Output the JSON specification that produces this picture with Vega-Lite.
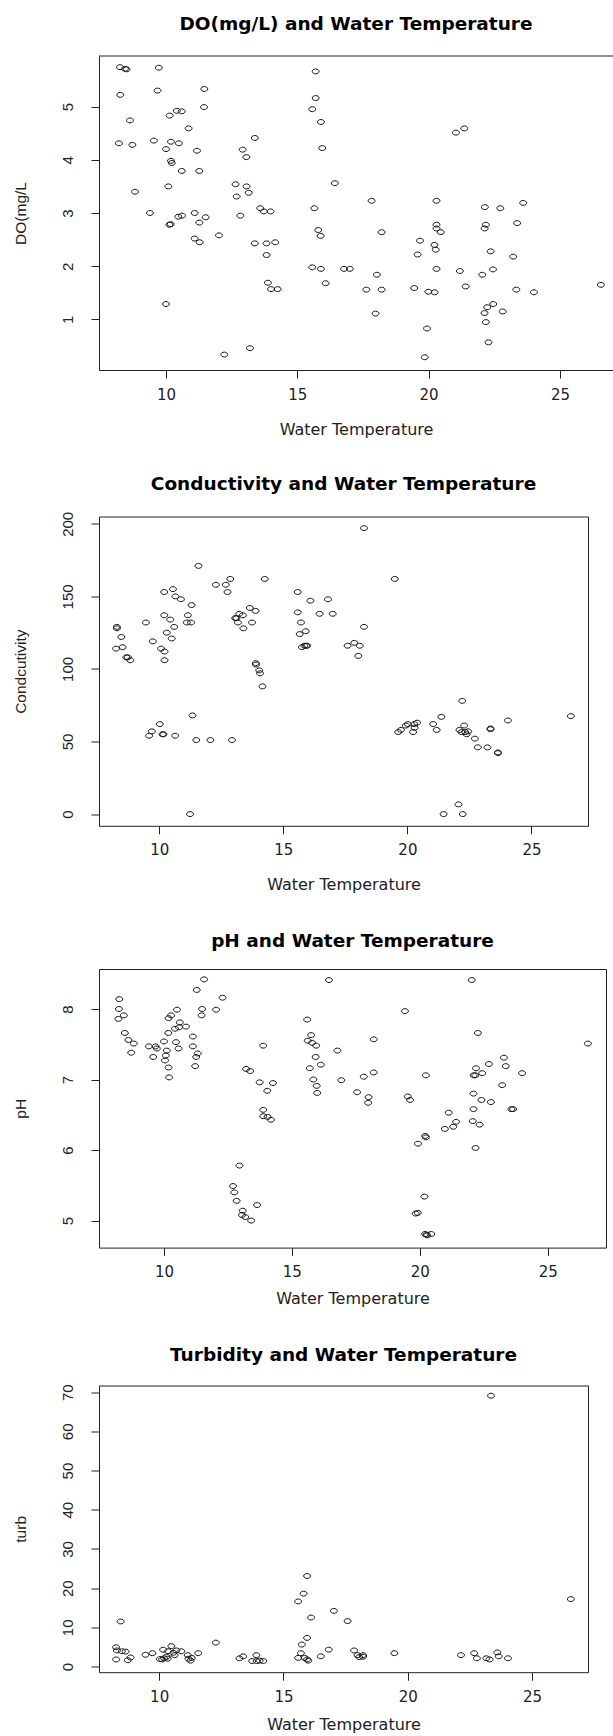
{
  "$schema": "https://vega.github.io/schema/vega-lite/v6.json",
  "padding": {"left": 12, "top": 15, "right": 0, "bottom": 0},
  "spacing": 37.5,
  "background": "white",
  "config": {
    "font": "Liberation Sans",
    "view": {"stroke": "#222", "strokeWidth": 1},
    "axis": {"grid": false, "domain": false, "tickColor": "#222", "tickSize": 8, "tickWidth": 1, "labelColor": "#222", "titleColor": "#222", "titleFontWeight": "normal", "labelFlush": false, "labelOverlap": false, "labelBound": false},
    "axisX": {"labelFont": "DejaVu Sans", "labelFontSize": 15, "labelPadding": 9, "titleFont": "DejaVu Sans", "titleFontSize": 16, "titleBaseline": "middle"},
    "axisY": {"labelFont": "Liberation Sans", "labelFontSize": 15, "labelAngle": 270, "labelAlign": "center", "labelBaseline": "bottom", "labelPadding": 16, "titleFont": "Liberation Sans", "titleFontSize": 15.5, "titleBaseline": "middle", "titleX": -79},
    "title": {"font": "DejaVu Sans", "fontSize": 18.5, "fontWeight": "bold", "color": "#000", "anchor": "middle", "frame": "group", "baseline": "middle"},
    "point": {"shape": "M -1.4 0 A 1.4 1 0 1 1 1.4 0 A 1.4 1 0 1 1 -1.4 0 Z", "filled": false, "stroke": "#111", "strokeWidth": 1, "size": 24, "opacity": 1}
  },
  "datasets": {
    "do": [
      {"temp": 8.25, "DO": 5.74}, {"temp": 8.44, "DO": 5.71}, {"temp": 8.5, "DO": 5.70}, {"temp": 9.73, "DO": 5.73}, {"temp": 8.26, "DO": 5.22},
      {"temp": 9.68, "DO": 5.30}, {"temp": 11.46, "DO": 5.33}, {"temp": 11.45, "DO": 4.99}, {"temp": 8.63, "DO": 4.74}, {"temp": 10.14, "DO": 4.83},
      {"temp": 10.41, "DO": 4.92}, {"temp": 10.6, "DO": 4.91}, {"temp": 10.86, "DO": 4.59}, {"temp": 8.21, "DO": 4.31}, {"temp": 8.72, "DO": 4.28},
      {"temp": 9.54, "DO": 4.36}, {"temp": 10.0, "DO": 4.2}, {"temp": 10.19, "DO": 4.34}, {"temp": 10.49, "DO": 4.31}, {"temp": 11.18, "DO": 4.17},
      {"temp": 10.19, "DO": 3.98}, {"temp": 10.22, "DO": 3.94}, {"temp": 10.6, "DO": 3.79}, {"temp": 11.27, "DO": 3.79}, {"temp": 10.09, "DO": 3.5},
      {"temp": 8.82, "DO": 3.4}, {"temp": 9.39, "DO": 3.0}, {"temp": 10.13, "DO": 2.78}, {"temp": 10.18, "DO": 2.79}, {"temp": 10.47, "DO": 2.93},
      {"temp": 10.61, "DO": 2.95}, {"temp": 11.09, "DO": 3.0}, {"temp": 11.27, "DO": 2.82}, {"temp": 11.51, "DO": 2.92}, {"temp": 11.09, "DO": 2.52},
      {"temp": 11.28, "DO": 2.45}, {"temp": 12.02, "DO": 2.58}, {"temp": 10.0, "DO": 1.29}, {"temp": 12.22, "DO": 0.34}, {"temp": 12.92, "DO": 4.19},
      {"temp": 13.06, "DO": 4.05}, {"temp": 13.38, "DO": 4.41}, {"temp": 12.65, "DO": 3.54}, {"temp": 13.07, "DO": 3.5}, {"temp": 12.69, "DO": 3.31},
      {"temp": 13.15, "DO": 3.38}, {"temp": 12.83, "DO": 2.95}, {"temp": 13.59, "DO": 3.09}, {"temp": 13.73, "DO": 3.03}, {"temp": 13.98, "DO": 3.03},
      {"temp": 13.38, "DO": 2.43}, {"temp": 13.83, "DO": 2.43}, {"temp": 14.16, "DO": 2.45}, {"temp": 13.83, "DO": 2.21}, {"temp": 13.88, "DO": 1.69},
      {"temp": 14.0, "DO": 1.57}, {"temp": 14.25, "DO": 1.57}, {"temp": 13.2, "DO": 0.46}, {"temp": 15.7, "DO": 5.66}, {"temp": 15.7, "DO": 5.16},
      {"temp": 15.57, "DO": 4.95}, {"temp": 15.9, "DO": 4.71}, {"temp": 15.95, "DO": 4.22}, {"temp": 16.43, "DO": 3.56}, {"temp": 15.65, "DO": 3.09},
      {"temp": 15.8, "DO": 2.68}, {"temp": 15.89, "DO": 2.57}, {"temp": 15.57, "DO": 1.98}, {"temp": 15.9, "DO": 1.95}, {"temp": 16.08, "DO": 1.68},
      {"temp": 17.83, "DO": 3.23}, {"temp": 18.21, "DO": 2.64}, {"temp": 20.3, "DO": 3.23}, {"temp": 20.3, "DO": 2.78}, {"temp": 20.3, "DO": 2.71},
      {"temp": 20.46, "DO": 2.64}, {"temp": 19.67, "DO": 2.48}, {"temp": 20.22, "DO": 2.40}, {"temp": 20.27, "DO": 2.31}, {"temp": 19.58, "DO": 2.22},
      {"temp": 16.78, "DO": 1.95}, {"temp": 17.0, "DO": 1.95}, {"temp": 18.03, "DO": 1.84}, {"temp": 17.63, "DO": 1.56}, {"temp": 18.21, "DO": 1.56},
      {"temp": 19.45, "DO": 1.59}, {"temp": 19.99, "DO": 1.52}, {"temp": 20.23, "DO": 1.51}, {"temp": 20.3, "DO": 1.95}, {"temp": 17.98, "DO": 1.11},
      {"temp": 19.94, "DO": 0.83}, {"temp": 19.85, "DO": 0.29}, {"temp": 21.04, "DO": 4.51}, {"temp": 21.36, "DO": 4.59}, {"temp": 22.14, "DO": 3.11},
      {"temp": 22.73, "DO": 3.09}, {"temp": 23.6, "DO": 3.19}, {"temp": 22.18, "DO": 2.78}, {"temp": 22.13, "DO": 2.71}, {"temp": 23.37, "DO": 2.81},
      {"temp": 22.36, "DO": 2.28}, {"temp": 23.22, "DO": 2.18}, {"temp": 21.19, "DO": 1.91}, {"temp": 22.04, "DO": 1.84}, {"temp": 22.45, "DO": 1.94},
      {"temp": 21.41, "DO": 1.62}, {"temp": 23.34, "DO": 1.56}, {"temp": 24.01, "DO": 1.51}, {"temp": 22.46, "DO": 1.29}, {"temp": 22.23, "DO": 1.23},
      {"temp": 22.13, "DO": 1.12}, {"temp": 22.82, "DO": 1.15}, {"temp": 22.18, "DO": 0.95}, {"temp": 22.28, "DO": 0.57}, {"temp": 26.56, "DO": 1.65}
    ],
    "cond": [
      {"temp": 8.29, "cond": 129}, {"temp": 8.29, "cond": 128}, {"temp": 8.47, "cond": 122}, {"temp": 8.26, "cond": 114}, {"temp": 8.52, "cond": 115},
      {"temp": 8.67, "cond": 108}, {"temp": 8.73, "cond": 108}, {"temp": 8.83, "cond": 106}, {"temp": 9.46, "cond": 132}, {"temp": 9.74, "cond": 119},
      {"temp": 10.2, "cond": 153}, {"temp": 10.55, "cond": 155}, {"temp": 10.65, "cond": 150}, {"temp": 10.87, "cond": 148}, {"temp": 11.3, "cond": 144},
      {"temp": 10.2, "cond": 137}, {"temp": 10.44, "cond": 134}, {"temp": 10.6, "cond": 129}, {"temp": 10.3, "cond": 125}, {"temp": 10.5, "cond": 121},
      {"temp": 10.07, "cond": 114}, {"temp": 10.21, "cond": 112}, {"temp": 10.21, "cond": 106}, {"temp": 11.15, "cond": 137}, {"temp": 11.11, "cond": 132},
      {"temp": 11.28, "cond": 132}, {"temp": 11.58, "cond": 171}, {"temp": 12.28, "cond": 158}, {"temp": 12.68, "cond": 158}, {"temp": 12.86, "cond": 162},
      {"temp": 12.75, "cond": 153}, {"temp": 14.25, "cond": 162}, {"temp": 13.06, "cond": 135}, {"temp": 13.11, "cond": 135}, {"temp": 13.22, "cond": 138},
      {"temp": 13.37, "cond": 137}, {"temp": 13.17, "cond": 132}, {"temp": 13.39, "cond": 128}, {"temp": 13.65, "cond": 142}, {"temp": 13.88, "cond": 140},
      {"temp": 13.74, "cond": 132}, {"temp": 13.89, "cond": 104}, {"temp": 13.9, "cond": 103}, {"temp": 14.03, "cond": 99}, {"temp": 14.06, "cond": 97},
      {"temp": 14.16, "cond": 88}, {"temp": 9.59, "cond": 54}, {"temp": 9.7, "cond": 57}, {"temp": 10.02, "cond": 62}, {"temp": 10.13, "cond": 55},
      {"temp": 10.17, "cond": 55}, {"temp": 10.64, "cond": 54}, {"temp": 11.34, "cond": 68}, {"temp": 11.49, "cond": 51}, {"temp": 12.06, "cond": 51},
      {"temp": 12.93, "cond": 51}, {"temp": 11.24, "cond": 0}, {"temp": 15.58, "cond": 153}, {"temp": 15.58, "cond": 139}, {"temp": 15.71, "cond": 132},
      {"temp": 15.66, "cond": 124}, {"temp": 15.9, "cond": 126}, {"temp": 16.09, "cond": 147}, {"temp": 16.46, "cond": 138}, {"temp": 16.8, "cond": 148},
      {"temp": 16.99, "cond": 138}, {"temp": 15.75, "cond": 115}, {"temp": 15.85, "cond": 116}, {"temp": 15.92, "cond": 116}, {"temp": 15.96, "cond": 116},
      {"temp": 18.25, "cond": 197}, {"temp": 19.49, "cond": 162}, {"temp": 18.25, "cond": 129}, {"temp": 17.59, "cond": 116}, {"temp": 17.86, "cond": 118},
      {"temp": 18.08, "cond": 116}, {"temp": 18.02, "cond": 109}, {"temp": 22.21, "cond": 78}, {"temp": 21.37, "cond": 67}, {"temp": 21.04, "cond": 62},
      {"temp": 21.18, "cond": 58}, {"temp": 19.63, "cond": 56.5}, {"temp": 19.74, "cond": 58}, {"temp": 19.94, "cond": 61}, {"temp": 20.02, "cond": 62},
      {"temp": 20.28, "cond": 62}, {"temp": 20.39, "cond": 63}, {"temp": 20.23, "cond": 56.5}, {"temp": 20.29, "cond": 59.5}, {"temp": 22.1, "cond": 58},
      {"temp": 22.18, "cond": 56.5}, {"temp": 22.29, "cond": 61}, {"temp": 22.33, "cond": 56.5}, {"temp": 22.45, "cond": 57}, {"temp": 22.39, "cond": 55},
      {"temp": 22.72, "cond": 52}, {"temp": 22.84, "cond": 46}, {"temp": 23.23, "cond": 46}, {"temp": 23.35, "cond": 59}, {"temp": 23.35, "cond": 58.5},
      {"temp": 23.65, "cond": 42.5}, {"temp": 23.65, "cond": 42}, {"temp": 24.05, "cond": 64.5}, {"temp": 26.59, "cond": 67.5}, {"temp": 22.06, "cond": 6.7},
      {"temp": 21.46, "cond": 0}, {"temp": 22.23, "cond": 0}
    ],
    "ph": [
      {"temp": 8.25, "pH": 8.14}, {"temp": 8.24, "pH": 8.0}, {"temp": 8.22, "pH": 7.86}, {"temp": 8.43, "pH": 7.91}, {"temp": 8.47, "pH": 7.66},
      {"temp": 8.61, "pH": 7.56}, {"temp": 8.82, "pH": 7.51}, {"temp": 8.72, "pH": 7.38}, {"temp": 9.41, "pH": 7.47}, {"temp": 9.58, "pH": 7.32},
      {"temp": 9.67, "pH": 7.47}, {"temp": 9.72, "pH": 7.44}, {"temp": 10.0, "pH": 7.54}, {"temp": 10.11, "pH": 7.41}, {"temp": 10.07, "pH": 7.34},
      {"temp": 10.04, "pH": 7.27}, {"temp": 10.18, "pH": 7.17}, {"temp": 10.2, "pH": 7.03}, {"temp": 10.17, "pH": 7.66}, {"temp": 10.18, "pH": 7.87},
      {"temp": 10.28, "pH": 7.91}, {"temp": 10.51, "pH": 7.99}, {"temp": 10.43, "pH": 7.72}, {"temp": 10.62, "pH": 7.81}, {"temp": 10.59, "pH": 7.74},
      {"temp": 10.86, "pH": 7.75}, {"temp": 10.47, "pH": 7.53}, {"temp": 10.57, "pH": 7.44}, {"temp": 11.13, "pH": 7.61}, {"temp": 11.13, "pH": 7.47},
      {"temp": 11.26, "pH": 7.32}, {"temp": 11.32, "pH": 7.37}, {"temp": 11.22, "pH": 7.19}, {"temp": 11.28, "pH": 8.27}, {"temp": 11.49, "pH": 8.0},
      {"temp": 11.47, "pH": 7.91}, {"temp": 11.57, "pH": 8.42}, {"temp": 12.04, "pH": 7.99}, {"temp": 12.29, "pH": 8.16}, {"temp": 12.95, "pH": 5.78},
      {"temp": 12.7, "pH": 5.49}, {"temp": 12.75, "pH": 5.40}, {"temp": 12.84, "pH": 5.28}, {"temp": 13.08, "pH": 5.14}, {"temp": 13.05, "pH": 5.08},
      {"temp": 13.18, "pH": 5.05}, {"temp": 13.41, "pH": 5.0}, {"temp": 13.64, "pH": 5.22}, {"temp": 13.21, "pH": 7.15}, {"temp": 13.37, "pH": 7.12},
      {"temp": 13.74, "pH": 6.96}, {"temp": 14.04, "pH": 6.84}, {"temp": 14.26, "pH": 6.95}, {"temp": 13.88, "pH": 7.48}, {"temp": 13.88, "pH": 6.57},
      {"temp": 13.88, "pH": 6.48}, {"temp": 14.05, "pH": 6.47}, {"temp": 14.18, "pH": 6.43}, {"temp": 15.6, "pH": 7.85}, {"temp": 15.75, "pH": 7.63},
      {"temp": 15.62, "pH": 7.55}, {"temp": 15.79, "pH": 7.52}, {"temp": 15.95, "pH": 7.48}, {"temp": 15.93, "pH": 7.32}, {"temp": 16.13, "pH": 7.21},
      {"temp": 15.7, "pH": 7.16}, {"temp": 15.84, "pH": 7.0}, {"temp": 15.97, "pH": 6.91}, {"temp": 15.99, "pH": 6.81}, {"temp": 16.45, "pH": 8.41},
      {"temp": 16.78, "pH": 7.41}, {"temp": 16.93, "pH": 6.99}, {"temp": 17.81, "pH": 7.04}, {"temp": 18.2, "pH": 7.1}, {"temp": 18.2, "pH": 7.57},
      {"temp": 17.55, "pH": 6.82}, {"temp": 18.0, "pH": 6.75}, {"temp": 17.98, "pH": 6.67}, {"temp": 19.42, "pH": 7.97}, {"temp": 19.53, "pH": 6.76},
      {"temp": 19.62, "pH": 6.71}, {"temp": 20.24, "pH": 7.06}, {"temp": 19.93, "pH": 6.09}, {"temp": 20.21, "pH": 6.2}, {"temp": 20.24, "pH": 6.18},
      {"temp": 20.18, "pH": 5.34}, {"temp": 19.84, "pH": 5.10}, {"temp": 19.92, "pH": 5.11}, {"temp": 20.21, "pH": 4.81}, {"temp": 20.29, "pH": 4.79},
      {"temp": 20.45, "pH": 4.81}, {"temp": 20.27, "pH": 4.8}, {"temp": 21.13, "pH": 6.53}, {"temp": 20.98, "pH": 6.30}, {"temp": 21.31, "pH": 6.33},
      {"temp": 21.42, "pH": 6.4}, {"temp": 22.03, "pH": 8.41}, {"temp": 22.27, "pH": 7.66}, {"temp": 22.2, "pH": 7.16}, {"temp": 22.11, "pH": 7.06},
      {"temp": 22.17, "pH": 7.06}, {"temp": 22.44, "pH": 7.09}, {"temp": 22.7, "pH": 7.22}, {"temp": 22.1, "pH": 6.8}, {"temp": 22.41, "pH": 6.71},
      {"temp": 22.78, "pH": 6.68}, {"temp": 22.1, "pH": 6.58}, {"temp": 22.07, "pH": 6.41}, {"temp": 22.34, "pH": 6.36}, {"temp": 22.18, "pH": 6.03},
      {"temp": 23.29, "pH": 7.31}, {"temp": 23.36, "pH": 7.19}, {"temp": 23.22, "pH": 6.92}, {"temp": 23.58, "pH": 6.58}, {"temp": 23.65, "pH": 6.58},
      {"temp": 24.0, "pH": 7.09}, {"temp": 26.57, "pH": 7.51}
    ],
    "turb": [
      {"temp": 8.27, "turb": 4.9}, {"temp": 8.3, "turb": 4.1}, {"temp": 8.5, "turb": 3.9}, {"temp": 8.65, "turb": 3.8}, {"temp": 8.27, "turb": 1.8},
      {"temp": 8.45, "turb": 11.5}, {"temp": 8.85, "turb": 2.3}, {"temp": 8.74, "turb": 1.6}, {"temp": 9.45, "turb": 3.0}, {"temp": 9.73, "turb": 3.4},
      {"temp": 10.16, "turb": 4.3}, {"temp": 10.03, "turb": 1.9}, {"temp": 10.12, "turb": 1.8}, {"temp": 10.2, "turb": 2.1}, {"temp": 10.3, "turb": 2.5},
      {"temp": 10.34, "turb": 2.0}, {"temp": 10.49, "turb": 5.2}, {"temp": 10.36, "turb": 3.9}, {"temp": 10.57, "turb": 3.5}, {"temp": 10.62, "turb": 2.9},
      {"temp": 10.69, "turb": 4.1}, {"temp": 10.89, "turb": 3.9}, {"temp": 11.15, "turb": 2.9}, {"temp": 11.18, "turb": 2.0}, {"temp": 11.31, "turb": 2.2},
      {"temp": 11.26, "turb": 1.5}, {"temp": 11.57, "turb": 3.4}, {"temp": 12.28, "turb": 6.1}, {"temp": 13.23, "turb": 2.1}, {"temp": 13.38, "turb": 2.6},
      {"temp": 13.91, "turb": 2.9}, {"temp": 13.74, "turb": 1.4}, {"temp": 13.92, "turb": 1.4}, {"temp": 14.04, "turb": 1.5}, {"temp": 14.19, "turb": 1.4},
      {"temp": 15.59, "turb": 16.6}, {"temp": 15.81, "turb": 18.6}, {"temp": 15.95, "turb": 23.1}, {"temp": 16.11, "turb": 12.5}, {"temp": 15.95, "turb": 7.3},
      {"temp": 15.74, "turb": 5.6}, {"temp": 15.7, "turb": 3.4}, {"temp": 15.59, "turb": 2.2}, {"temp": 15.85, "turb": 2.2}, {"temp": 15.95, "turb": 1.8},
      {"temp": 16.0, "turb": 1.5}, {"temp": 16.5, "turb": 2.6}, {"temp": 16.82, "turb": 4.3}, {"temp": 17.03, "turb": 14.2}, {"temp": 17.58, "turb": 11.6},
      {"temp": 17.84, "turb": 4.1}, {"temp": 17.98, "turb": 2.9}, {"temp": 18.05, "turb": 2.4}, {"temp": 18.2, "turb": 2.5}, {"temp": 18.2, "turb": 2.9},
      {"temp": 19.46, "turb": 3.4}, {"temp": 22.14, "turb": 2.9}, {"temp": 22.67, "turb": 3.4}, {"temp": 22.78, "turb": 2.1}, {"temp": 23.16, "turb": 2.1},
      {"temp": 23.29, "turb": 1.8}, {"temp": 23.6, "turb": 3.6}, {"temp": 23.66, "turb": 2.6}, {"temp": 24.03, "turb": 2.1}, {"temp": 23.35, "turb": 69.1},
      {"temp": 26.56, "turb": 17.2}
    ]
  },
  "vconcat": [
    {
      "width": 514,
      "height": 314,
      "view": {"stroke": null},
      "title": {"text": "DO(mg/L) and Water Temperature", "offset": 22},
      "layer": [
        {
          "data": {"name": "do"},
          "mark": {"type": "point"},
          "encoding": {
            "x": {"field": "temp", "type": "quantitative", "scale": {"domain": [7.45, 27.02], "nice": false, "zero": false},
                  "axis": {"title": "Water Temperature", "values": [10, 15, 20, 25], "domain": true, "domainColor": "#222", "titleY": 59}},
            "y": {"field": "DO", "type": "quantitative", "scale": {"domain": [0.05, 5.95], "nice": false, "zero": false},
                  "axis": {"title": "DO(mg/L", "values": [1, 2, 3, 4, 5], "domain": true, "domainColor": "#222"}}
          }
        },
        {
          "data": {"values": [{"top": 5.95}]},
          "mark": {"type": "rule", "color": "#222", "strokeWidth": 1},
          "encoding": {"y": {"field": "top", "type": "quantitative"}}
        }
      ]
    },
    {
      "width": 489,
      "height": 309.3,
      "title": {"text": "Conductivity and Water Temperature", "offset": 17.5},
      "data": {"name": "cond"},
      "mark": {"type": "point"},
      "encoding": {
        "x": {"field": "temp", "type": "quantitative", "scale": {"domain": [7.57, 27.28], "nice": false, "zero": false},
              "axis": {"title": "Water Temperature", "values": [10, 15, 20, 25], "titleY": 59}},
        "y": {"field": "cond", "type": "quantitative", "scale": {"domain": [-8.06, 205.03], "nice": false, "zero": false},
              "axis": {"title": "Condcutivity", "values": [0, 50, 100, 150, 200]}}
      }
    },
    {
      "width": 507,
      "height": 278.6,
      "title": {"text": "pH and Water Temperature", "offset": 19},
      "data": {"name": "ph"},
      "mark": {"type": "point"},
      "encoding": {
        "x": {"field": "temp", "type": "quantitative", "scale": {"domain": [7.46, 27.28], "nice": false, "zero": false},
              "axis": {"title": "Water Temperature", "values": [10, 15, 20, 25], "titleY": 51}},
        "y": {"field": "pH", "type": "quantitative", "scale": {"domain": [4.617, 8.567], "nice": false, "zero": false},
              "axis": {"title": "pH", "values": [5, 6, 7, 8]}}
      }
    },
    {
      "width": 489,
      "height": 286.7,
      "title": {"text": "Turbidity and Water Temperature", "offset": 19.3},
      "data": {"name": "turb"},
      "mark": {"type": "point"},
      "encoding": {
        "x": {"field": "temp", "type": "quantitative", "scale": {"domain": [7.58, 27.25], "nice": false, "zero": false},
              "axis": {"title": "Water Temperature", "values": [10, 15, 20, 25], "titleY": 52}},
        "y": {"field": "turb", "type": "quantitative", "scale": {"domain": [-1.45, 71.7], "nice": false, "zero": false},
              "axis": {"title": "turb", "values": [0, 10, 20, 30, 40, 50, 60, 70]}}
      }
    }
  ]
}
